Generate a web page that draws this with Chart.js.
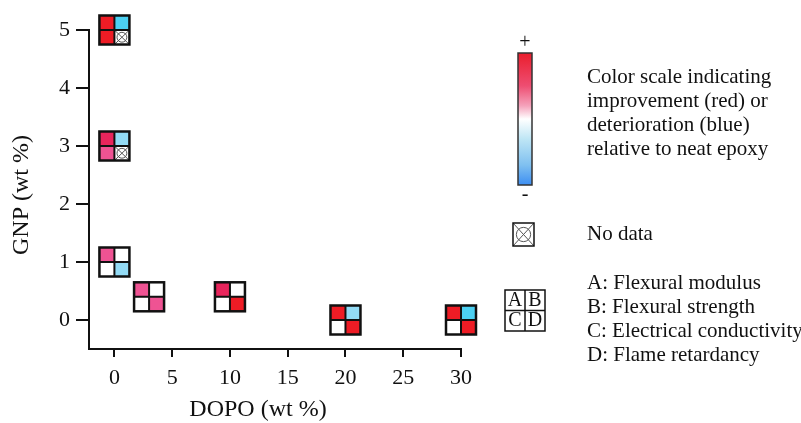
<!DOCTYPE html>
<html lang="en">
<head>
    <meta charset="UTF-8">
    <title>DOPO / GNP property map</title>
    <style>
        * { margin: 0; padding: 0; box-sizing: border-box; }
        body { background: #fff; width: 801px; height: 423px; overflow: hidden; }
        #wrap { position: relative; width: 801px; height: 423px; }
    </style>
    <script src="https://cdn.jsdelivr.net/npm/chart.js"></script>
</head>
<body>
    <div id="wrap"><canvas id="map" width="801" height="423"></canvas></div>

    <script>
        // formulations (DOPO wt %, GNP wt %)
        const dopo = [0, 0, 0, 3, 10, 20, 30];
        const gnp = [5, 3, 1, 0.4, 0.4, 0, 0];

        // change vs neat epoxy, level -2 (worse) .. 3 (better), null = no data
        const flexModulus = [3, 2, 1, 1, 2, 3, 3];        // A
        const flexStrength = [-2, -1, 0, 0, 0, -1, -2];   // B
        const elecConductivity = [3, 1, 0, 0, 0, 0, 0];   // C
        const flameRetardancy = [null, null, -1, 1, 3, 3, 3]; // D

        const xTicks = [0, 5, 10, 15, 20, 25, 30];
        const yTicks = [0, 1, 2, 3, 4, 5];

        const legendScale = ['Color scale indicating', 'improvement (red) or', 'deterioration (blue)', 'relative to neat epoxy'];
        const legendKeys = ['A: Flexural modulus', 'B: Flexural strength', 'C: Electrical conductivity', 'D: Flame retardancy'];

        const levelColor = { '3': '#ee1c25', '2': '#e8255c', '1': '#ef5393', '0': '#ffffff', '-1': '#93dbf5', '-2': '#4cd0f2' };
        const SERIF = "'Liberation Serif', 'Times New Roman', serif";

        function noDataCell(ctx, x, y, w, h) {
            ctx.save();
            ctx.fillStyle = '#fff';
            ctx.fillRect(x, y, w, h);
            ctx.beginPath();
            ctx.rect(x, y, w, h);
            ctx.clip();
            ctx.strokeStyle = '#555';
            ctx.lineWidth = 1;
            ctx.beginPath();
            ctx.moveTo(x, y); ctx.lineTo(x + w, y + h);
            ctx.moveTo(x + w, y); ctx.lineTo(x, y + h);
            ctx.stroke();
            ctx.beginPath();
            ctx.arc(x + w / 2, y + h / 2, Math.min(w, h) * 0.34, 0, Math.PI * 2);
            ctx.stroke();
            ctx.restore();
        }

        function glyph(ctx, cx, cy, vals) {
            const w = 30, h = 29;
            const x0 = cx - w / 2, y0 = cy - h / 2;
            const cells = [[0, 0], [1, 0], [0, 1], [1, 1]];
            cells.forEach((c, k) => {
                const x = x0 + c[0] * w / 2, y = y0 + c[1] * h / 2;
                if (vals[k] === null) noDataCell(ctx, x, y, w / 2, h / 2);
                else { ctx.fillStyle = levelColor[vals[k]]; ctx.fillRect(x, y, w / 2, h / 2); }
            });
            ctx.strokeStyle = '#111';
            ctx.lineWidth = 2.5;
            ctx.strokeRect(x0, y0, w, h);
            ctx.lineWidth = 2;
            ctx.beginPath();
            ctx.moveTo(cx, y0); ctx.lineTo(cx, y0 + h);
            ctx.moveTo(x0, cy); ctx.lineTo(x0 + w, cy);
            ctx.stroke();
        }

        const glyphPlugin = {
            id: 'glyphs',
            afterDatasetsDraw(chart) {
                const ctx = chart.ctx;
                const meta = chart.getDatasetMeta(0);
                meta.data.forEach((pt, i) => {
                    glyph(ctx, pt.x, pt.y, [flexModulus[i], flexStrength[i], elecConductivity[i], flameRetardancy[i]]);
                });
            }
        };

        const sidePlugin = {
            id: 'side',
            afterDraw(chart) {
                const ctx = chart.ctx;
                ctx.save();
                ctx.fillStyle = '#111';
                ctx.textBaseline = 'middle';

                // axis titles
                ctx.font = '24px ' + SERIF;
                ctx.textAlign = 'center';
                ctx.fillText('DOPO (wt %)', 258, 410);
                ctx.save();
                ctx.translate(22, 195);
                ctx.rotate(-Math.PI / 2);
                ctx.fillText('GNP (wt %)', 0, 0);
                ctx.restore();

                // colour bar
                const g = ctx.createLinearGradient(0, 53, 0, 185);
                g.addColorStop(0, '#ea1d2c');
                g.addColorStop(0.25, '#ee4e72');
                g.addColorStop(0.4, '#f5a2bb');
                g.addColorStop(0.5, '#ffffff');
                g.addColorStop(0.65, '#bfe6f5');
                g.addColorStop(0.85, '#7fc0f0');
                g.addColorStop(1, '#3d8ef2');
                ctx.fillStyle = g;
                ctx.fillRect(518, 53, 14, 132);
                ctx.strokeStyle = '#333';
                ctx.lineWidth = 1.5;
                ctx.strokeRect(518, 53, 14, 132);
                ctx.fillStyle = '#111';
                ctx.font = '20px ' + SERIF;
                ctx.fillText('+', 525, 43);
                ctx.fillText('-', 525, 195);

                ctx.textAlign = 'left';
                ctx.font = '21px ' + SERIF;
                legendScale.forEach((t, i) => ctx.fillText(t, 587, 77 + i * 24));

                // no data key
                noDataCell(ctx, 513, 223, 21, 23);
                ctx.strokeStyle = '#111';
                ctx.lineWidth = 1.5;
                ctx.strokeRect(513, 223, 21, 23);
                ctx.fillStyle = '#111';
                ctx.fillText('No data', 587, 234);

                // quadrant key
                ctx.lineWidth = 1.5;
                ctx.strokeRect(505, 290, 40, 41);
                ctx.beginPath();
                ctx.moveTo(525, 290); ctx.lineTo(525, 331);
                ctx.moveTo(505, 310.5); ctx.lineTo(545, 310.5);
                ctx.stroke();
                ctx.textAlign = 'center';
                ctx.font = '20px ' + SERIF;
                ctx.fillText('A', 515, 301);
                ctx.fillText('B', 535, 301);
                ctx.fillText('C', 515, 321);
                ctx.fillText('D', 535, 321);

                ctx.textAlign = 'left';
                ctx.font = '21px ' + SERIF;
                legendKeys.forEach((t, i) => ctx.fillText(t, 587, 283 + i * 24));
                ctx.restore();
            }
        };

        new Chart(document.getElementById('map'), {
            type: 'scatter',
            data: { datasets: [{ data: dopo.map((x, i) => ({ x: x, y: gnp[i] })), pointRadius: 0 }] },
            options: {
                responsive: false,
                animation: false,
                layout: { padding: { left: 0, top: 30, right: 340, bottom: 0 } },
                plugins: { legend: { display: false }, tooltip: { enabled: false } },
                scales: {
                    x: {
                        type: 'linear', min: -2.2, max: 30,
                        afterBuildTicks: s => { s.ticks = xTicks.map(v => ({ value: v })); },
                        afterFit: s => { s.height = 74; },
                        border: { color: '#111', width: 2 },
                        grid: { drawOnChartArea: false, color: '#111', lineWidth: 2, tickLength: 8 },
                        ticks: { color: '#111', padding: 8, maxRotation: 0, font: { family: SERIF, size: 22 } }
                    },
                    y: {
                        type: 'linear', min: -0.5, max: 5,
                        afterBuildTicks: s => { s.ticks = yTicks.map(v => ({ value: v })); },
                        afterFit: s => { s.width = 89; },
                        border: { color: '#111', width: 2 },
                        grid: { drawOnChartArea: false, color: '#111', lineWidth: 2, tickLength: 13 },
                        ticks: { color: '#111', padding: 6, font: { family: SERIF, size: 22 } }
                    }
                }
            },
            plugins: [glyphPlugin, sidePlugin]
        });
    </script>
</body>
</html>
